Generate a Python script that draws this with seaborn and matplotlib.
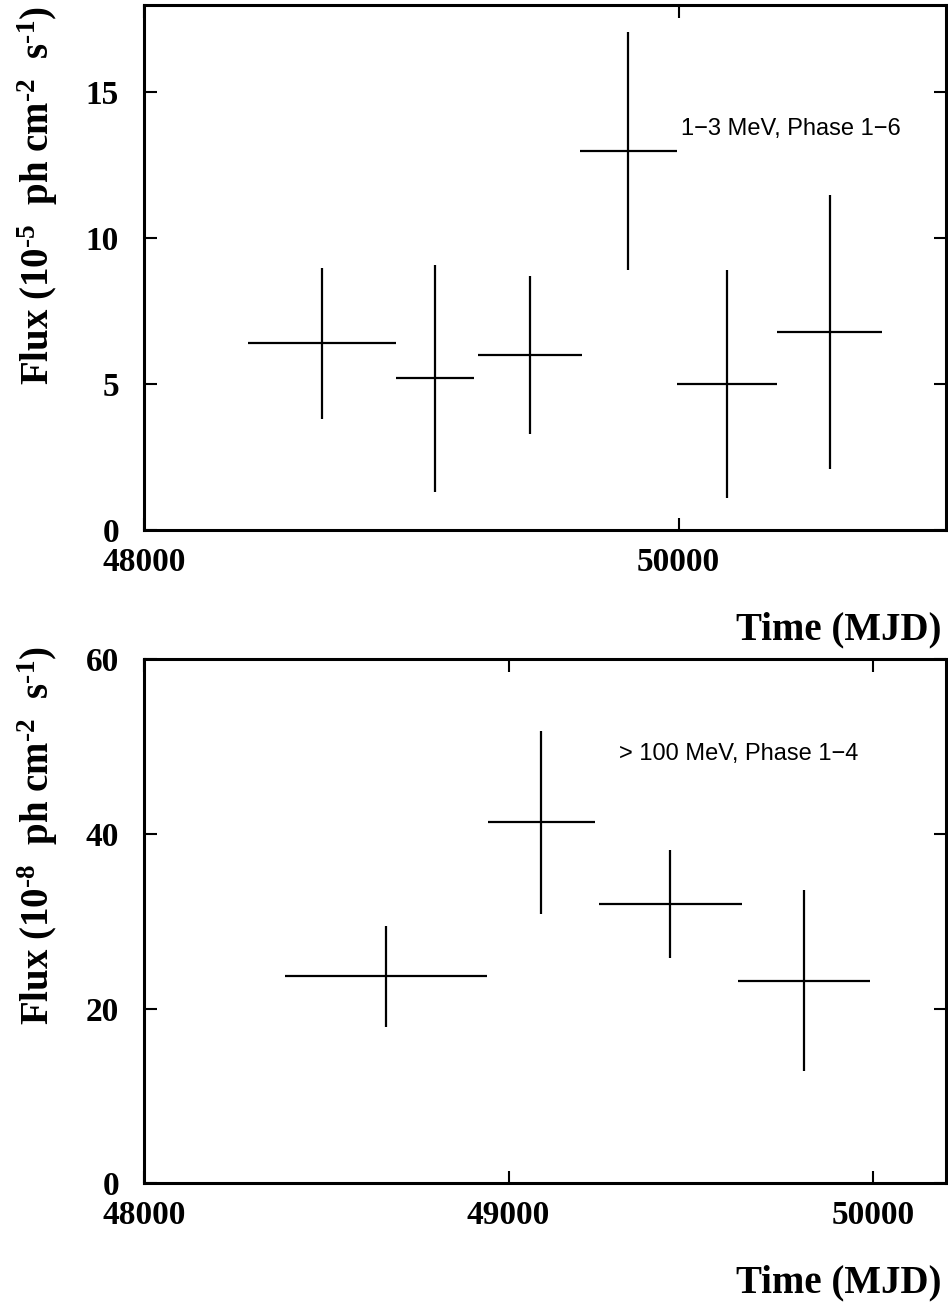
import matplotlib
matplotlib.use('Agg')
import matplotlib.pyplot as plt
import seaborn as sns
import numpy as np

# ---- data ----
# Top panel: 1-3 MeV, Phase 1-6  (flux in 1e-5 ph cm^-2 s^-1)
top_start = [48388, 48944, 49249, 49630, 49993, 50370]
top_end = [48942, 49236, 49637, 49993, 50369, 50761]
top_flux = [6.4, 5.2, 6.0, 13.0, 5.0, 6.8]
top_err = [2.58, 3.9, 2.7, 4.08, 3.9, 4.7]

# Bottom panel: >100 MeV, Phase 1-4  (flux in 1e-8 ph cm^-2 s^-1)
bot_start = [48388, 48944, 49248, 49630]
bot_end = [48942, 49236, 49640, 49992]
bot_flux = [23.7, 41.3, 32.0, 23.2]
bot_err = [5.8, 10.5, 6.2, 10.4]

top_xticks = [48000, 50000]
top_yticks = [0, 5, 10, 15]
bot_xticks = [48000, 49000, 50000]
bot_yticks = [0, 20, 40, 60]

top_note = "1\u22123 MeV, Phase 1\u22126"
bot_note = "> 100 MeV, Phase 1\u22124"

# ---- style ----
sns.set_theme(style='ticks')
plt.rcParams['font.family'] = ['Liberation Serif', 'DejaVu Serif']
plt.rcParams['font.weight'] = 'bold'
plt.rcParams['mathtext.fontset'] = 'custom'
plt.rcParams['mathtext.rm'] = 'Liberation Serif:bold'
plt.rcParams['mathtext.it'] = 'Liberation Serif:bold'
plt.rcParams['mathtext.bf'] = 'Liberation Serif:bold'
plt.rcParams['mathtext.default'] = 'rm'

fig = plt.figure(figsize=(9.48, 13.04), dpi=100)
ax1 = fig.add_axes([0.152, 0.5936, 0.8457, 0.4026])
ax2 = fig.add_axes([0.152, 0.0926, 0.8457, 0.4020])


def draw(ax, start, end, flux, err, xlim, ylim, xticks, yticks, ylabel, label_y, note, note_xy):
    start = np.asarray(start, float)
    end = np.asarray(end, float)
    mid = (start + end) / 2
    half = (end - start) / 2
    ax.errorbar(mid, flux, xerr=half, yerr=err, fmt='none', ecolor='black',
                elinewidth=1.6, capsize=0)
    ax.set_xlim(*xlim)
    ax.set_ylim(*ylim)
    ax.set_xticks(xticks)
    ax.set_yticks(yticks)
    ax.set_xticklabels([str(t) for t in xticks])
    ax.set_yticklabels([str(t) for t in yticks])
    ax.tick_params(axis='both', direction='in', length=9, width=1.5, color='black',
                   top=True, right=True, labelsize=24, labelcolor='black')
    ax.tick_params(axis='x', pad=12)
    ax.tick_params(axis='y', pad=18)
    for s in ax.spines.values():
        s.set_linewidth(2.2)
        s.set_color('black')
        s.set_visible(True)
    ax.set_xlabel('Time (MJD)', fontsize=28, fontweight='bold', loc='right', color='black')
    ax.xaxis.set_label_coords(0.995, -0.155)
    ax.set_ylabel(ylabel, fontsize=28, fontweight='bold', loc='top', color='black')
    ax.yaxis.set_label_coords(-0.105, label_y)
    ax.text(note_xy[0], note_xy[1], note, fontsize=17, family='Liberation Sans',
            fontweight='normal', ha='left', va='center', color='black')


draw(ax1, top_start, top_end, top_flux, top_err, (48000, 51000), (0, 18),
     top_xticks, top_yticks,
     r'Flux (10$^{\text{-5}}$  ph cm$^{\text{-2}}$  s$^{\text{-1}}$)', 0.998,
     top_note, (50009, 13.73))
draw(ax2, bot_start, bot_end, bot_flux, bot_err, (48000, 50200), (0, 60),
     bot_xticks, bot_yticks,
     r'Flux (10$^{\text{-8}}$  ph cm$^{\text{-2}}$  s$^{\text{-1}}$)', 1.025,
     bot_note, (49304, 49.1))

fig.savefig('out.png', dpi=100, facecolor='white')
